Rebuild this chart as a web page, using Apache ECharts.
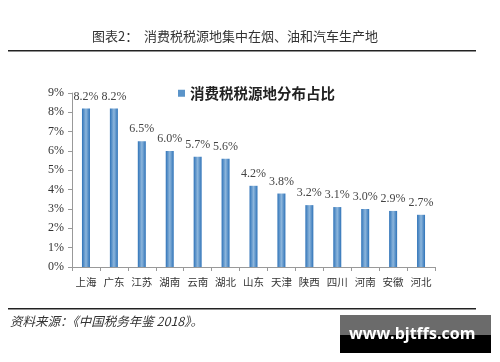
<!DOCTYPE html>
<html><head><meta charset="utf-8">
<script src="https://cdn.jsdelivr.net/npm/echarts@6/dist/echarts.min.js"></script>
<style>html,body{margin:0;padding:0;background:#fff}#c{width:500px;height:362px}</style>
</head><body><div id="c"></div>
<script>
const categories = ['上海','广东','江苏','湖南','云南','湖北','山东','天津','陕西','四川','河南','安徽','河北'];
const values = [8.2, 8.2, 6.5, 6.0, 5.7, 5.6, 4.2, 3.8, 3.2, 3.1, 3.0, 2.9, 2.7];
const yTicks = [0,1,2,3,4,5,6,7,8,9];
const seriesName = '消费税税源地分布占比';
const titleText = '图表2：  消费税税源地集中在烟、油和汽车生产地';
const sourceText = '资料来源：《中国税务年鉴 2018》。';

const chart = echarts.init(document.getElementById('c'));
const cjk = '"Noto Sans CJK SC", sans-serif';
chart.setOption({
  animation: false,
  grid: {left: 72, right: 65, top: 93, bottom: 95},
  legend: {
    data: [seriesName], left: 173, top: 81, itemWidth: 7, itemHeight: 7, itemGap: 6,
    icon: 'rect',
    itemStyle: {color: '#5b94c9'},
    textStyle: {fontFamily: cjk, fontWeight: 'bold', fontSize: 14.5, color: '#222'}
  },
  xAxis: {
    type: 'category', data: categories,
    axisLine: {lineStyle: {color: '#999'}},
    axisTick: {show: true, alignWithLabel: false, lineStyle: {color: '#999'}, length: 4},
    axisLabel: {fontFamily: cjk, fontSize: 10.5, color: '#333', margin: 10, interval: 0}
  },
  yAxis: {
    type: 'value', min: yTicks[0], max: yTicks[yTicks.length - 1], interval: 1,
    axisLine: {show: true, lineStyle: {color: '#999'}},
    axisTick: {show: true, inside: false, length: 4, lineStyle: {color: '#999'}},
    splitLine: {show: false},
    axisLabel: {formatter: v => v + '%', fontFamily: '"Liberation Serif", serif', fontSize: 12, color: '#333', margin: 8}
  },
  series: [{
    name: seriesName, type: 'bar', data: values, barWidth: 8,
    itemStyle: {
      color: new echarts.graphic.LinearGradient(0,0,1,0,[
        {offset:0, color:'#2f73b8'},{offset:0.5, color:'#8db6dc'},{offset:1, color:'#2f73b8'}
      ])
    },
    label: {show: true, position: 'top', distance: 6, formatter: p => p.value.toFixed(1) + '%',
      fontFamily: '"Liberation Serif", serif', fontSize: 12, color: '#444'}
  }],
  graphic: [
    {type: 'text', left: 92, top: 30, style: {text: titleText, font: '13px "Noto Sans CJK SC"', fill: '#333'}},
    {type: 'rect', shape: {x: 8, y: 50, width: 468, height: 1.5}, style: {fill: '#222'}},
    {type: 'rect', shape: {x: 8, y: 308, width: 468, height: 1.5}, style: {fill: '#222'}},
    {type: 'text', left: 10, top: 315, style: {text: sourceText, font: 'italic 12.5px "Noto Sans CJK SC"', fill: '#333'}},
    {type: 'rect', shape: {x: 340, y: 315, width: 151, height: 20}, style: {fill: '#6b6b6b'}},
    {type: 'rect', shape: {x: 340, y: 335, width: 151, height: 18}, style: {fill: '#000'}},
    {type: 'text', left: 349, top: 326, style: {text: 'www.bjtffs.com', font: 'bold 16px "Open Sans", sans-serif', fill: '#fff'}}
  ]
});
</script></body></html>
